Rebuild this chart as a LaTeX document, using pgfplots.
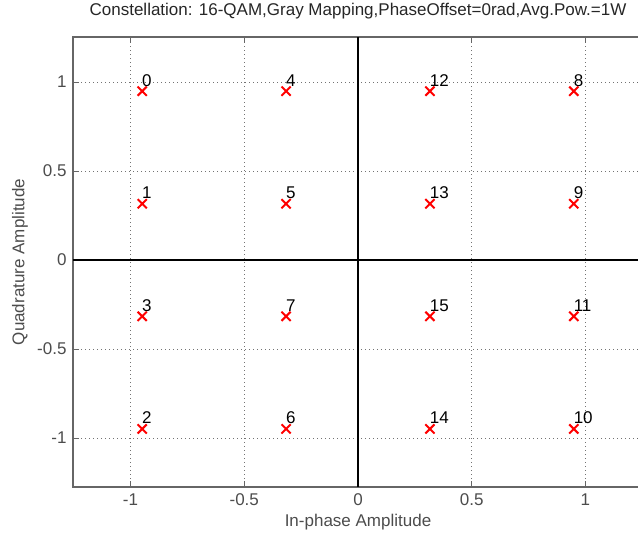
\documentclass[border=0pt]{standalone}
\usepackage{pgfplots}
\pgfplotsset{compat=1.18}
\usepackage{fontspec}
\setmainfont{Liberation Sans}
\begin{document}
\begin{tikzpicture}[x=1pt,y=1pt]
\useasboundingbox (0,0) rectangle (638,536);
\begin{axis}[
 at={(73pt,49pt)}, anchor=south west,
 scale only axis, width=570pt, height=450pt,
 xmin=-1.253, xmax=1.253, ymin=-1.275, ymax=1.253,
 xtick={-1,-0.5,0,0.5,1}, ytick={-1,-0.5,0,0.5,1},
 grid=major, grid style={black!55, line width=0.9pt, dash pattern=on 1pt off 3pt},
 tick align=inside, tick pos=both, major tick length=6pt,
 tick style={black!60, line width=0.9pt},
 axis line style={black!60, line width=1.2pt},
 ticklabel style={font=\fontsize{17}{20}\selectfont, text=black!70},
 /pgf/number format/assume math mode=true,
 xticklabel style={yshift=-3pt},
 yticklabel style={xshift=-3pt},
 title={Constellation: 16-QAM,Gray Mapping,PhaseOffset=0rad,Avg.Pow.=1W},
 title style={at={(axis description cs:0.5,1)}, anchor=center, yshift=20pt, font=\fontsize{17}{20}\selectfont, text=black!85},
 xlabel={In-phase Amplitude},
 xlabel style={at={(axis description cs:0.5,0)}, anchor=center, yshift=-35pt, font=\fontsize{17}{20}\selectfont, text=black!70},
 ylabel={Quadrature Amplitude},
 ylabel style={at={(axis description cs:-0.093,0.5)}, anchor=center, font=\fontsize{17}{20}\selectfont, text=black!70},
 point meta=explicit symbolic,
]
\addplot[black, line width=2pt, forget plot] coordinates {(0,-1.275) (0,1.253)};
\addplot[black, line width=2pt, forget plot] coordinates {(-1.253,0) (1.253,0)};
\addplot[only marks, mark=x, mark size=6.5pt, red, mark options={line width=2pt},
  nodes near coords, nodes near coords style={anchor=base west, inner sep=0pt, xshift=-1pt, yshift=5pt, text=black, font=\fontsize{17}{20}\selectfont}]
 table[meta=l] {
x y l
-0.9487 0.9487 0
-0.3162 0.9487 4
0.3162 0.9487 12
0.9487 0.9487 8
-0.9487 0.3162 1
-0.3162 0.3162 5
0.3162 0.3162 13
0.9487 0.3162 9
-0.9487 -0.3162 3
-0.3162 -0.3162 7
0.3162 -0.3162 15
0.9487 -0.3162 11
-0.9487 -0.9487 2
-0.3162 -0.9487 6
0.3162 -0.9487 14
0.9487 -0.9487 10
};
\end{axis}
\end{tikzpicture}
\end{document}
